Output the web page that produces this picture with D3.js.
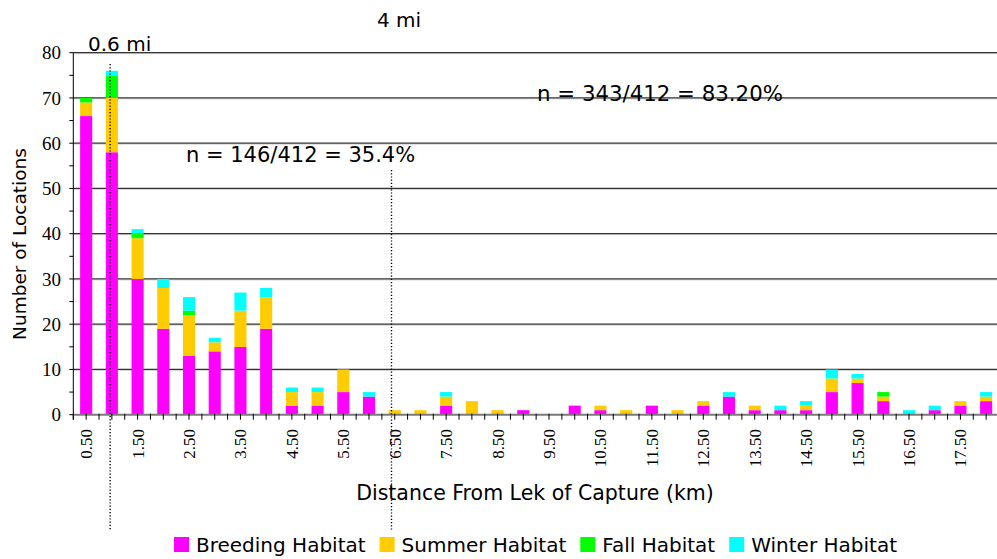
<!DOCTYPE html>
<html>
<head>
<meta charset="utf-8">
<script src="https://cdn.jsdelivr.net/npm/d3@7"></script>
<style>
  html, body { margin: 0; padding: 0; background: #fff; }
  svg { display: block; }
  .serif { font-family: "Liberation Serif", "Times New Roman", Tinos, "DejaVu Serif", serif; }
  .sans { font-family: "DejaVu Sans", Verdana, sans-serif; }
</style>
</head>
<body>
<svg id="chart" width="997" height="559"></svg>
<script>
// Distance classes (km) from the lek of capture
const categories = ["0.50","1.00","1.50","2.00","2.50","3.00","3.50","4.00","4.50","5.00",
  "5.50","6.00","6.50","7.00","7.50","8.00","8.50","9.00","9.50","10.00",
  "10.50","11.00","11.50","12.00","12.50","13.00","13.50","14.00","14.50","15.00",
  "15.50","16.00","16.50","17.00","17.50","18.00"];

// Number of locations per habitat type in each distance class
const breeding = [66,58,30,19,13,14,15,19,2,2,5,4,0,0,2,0,0,1,0,2,1,0,2,0,2,4,1,1,1,5,7,3,0,1,2,3];
const summer   = [3,12,9,9,9,2,8,7,3,3,5,0,1,1,2,3,1,0,0,0,1,1,0,1,1,0,1,0,1,3,1,1,0,0,1,1];
const fall     = [1,5,1,0,1,0,0,0,0,0,0,0,0,0,0,0,0,0,0,0,0,0,0,0,0,0,0,0,0,0,0,1,0,0,0,0];
const winter   = [0,1,1,2,3,1,4,2,1,1,0,1,0,0,1,0,0,0,0,0,0,0,0,0,0,1,0,1,1,2,1,0,1,1,0,1];

const seriesNames = ["Breeding Habitat","Summer Habitat","Fall Habitat","Winter Habitat"];
const seriesColors = ["#ff00ff","#ffcc00","#00ff00","#00ffff"];

const yTicks = [0,10,20,30,40,50,60,70,80];
const xLabelEvery = 2;   // label every other distance class

// Distance markers (km): 0.6 mi and 4 mi
const markerKm = [0.966, 6.437];
const markerLabels = ["0.6 mi","4 mi"];
const annotations = ["n = 146/412 = 35.4%","n = 343/412 = 83.20%"];

const svg = d3.select("#chart");
const plotLeft = 73.3, plotRight = 999, plotTop = 52.7, plotBottom = 414.7;

const x = d3.scaleBand().domain(categories).range([plotLeft, plotRight])
  .paddingInner(0.53).paddingOuter(0.265);
const y = d3.scaleLinear().domain([0, 80]).range([plotBottom, plotTop]);
const step = x.step();
const c0 = x(categories[0]) + x.bandwidth() / 2;
const cN = x(categories[categories.length - 1]) + x.bandwidth() / 2;
const xKm = d3.scaleLinear().domain([0.5, 18]).range([c0, cN]);

// Horizontal gridlines
const grid = svg.append("g");
yTicks.filter(v => v > 0).forEach(v => {
  grid.append("line").attr("x1", plotLeft).attr("x2", 997)
    .attr("y1", y(v) + 1).attr("y2", y(v) + 1)
    .attr("stroke", "#d4d4d4").attr("stroke-width", 1);
  grid.append("line").attr("x1", plotLeft).attr("x2", 997)
    .attr("y1", y(v)).attr("y2", y(v))
    .attr("stroke", "#333").attr("stroke-width", 1.2);
});

// Stacked bars
const table = categories.map((c, i) => ({
  cat: c, s0: breeding[i], s1: summer[i], s2: fall[i], s3: winter[i]
}));
const stack = d3.stack().keys(["s0","s1","s2","s3"]);
const layers = stack(table);
svg.append("g").selectAll("g").data(layers).join("g")
  .attr("fill", (d, i) => seriesColors[i])
  .selectAll("rect").data(d => d).join("rect")
  .attr("x", d => x(d.data.cat))
  .attr("width", x.bandwidth())
  .attr("y", d => y(d[1]))
  .attr("height", d => y(d[0]) - y(d[1]));

// Y axis
const yAxis = svg.append("g");
yAxis.append("line").attr("x1", plotLeft).attr("x2", plotLeft)
  .attr("y1", plotTop).attr("y2", plotBottom + 5).attr("stroke", "#000");
d3.range(0, 81, 5).forEach(v => {
  yAxis.append("line").attr("x1", plotLeft - 4).attr("x2", plotLeft)
    .attr("y1", y(v)).attr("y2", y(v)).attr("stroke", "#000");
});
yAxis.selectAll("text").data(yTicks).join("text")
  .attr("class", "serif")
  .attr("x", 61).attr("y", d => y(d)).attr("dy", "0.35em")
  .attr("text-anchor", "end")
  .style("font-size", "19px").attr("fill", "#000")
  .text(d => d);

// X axis line and ticks (class boundaries and centres)
const xAxis = svg.append("g");
xAxis.append("line").attr("x1", plotLeft).attr("x2", 997)
  .attr("y1", plotBottom).attr("y2", plotBottom).attr("stroke", "#7a7a7a").attr("stroke-width", 2);
d3.range(0, categories.length * 2 + 1).forEach(k => {
  const px = plotLeft + k * step / 2;
  xAxis.append("line").attr("x1", px).attr("x2", px)
    .attr("y1", plotBottom - 1).attr("y2", plotBottom + 5).attr("stroke", "#000");
});
xAxis.selectAll("text")
  .data(categories.filter((c, i) => i % xLabelEvery === 0))
  .join("text")
  .attr("class", "serif")
  .attr("transform", d => `translate(${x(d) + x.bandwidth() / 2},429) rotate(-90)`)
  .attr("dy", "0.35em").attr("text-anchor", "end")
  .style("font-size", "17px").attr("fill", "#000")
  .text(d => d);

// Dotted distance markers
const markerTops = [64, 170];
markerKm.forEach((km, i) => {
  svg.append("line").attr("x1", xKm(km)).attr("x2", xKm(km))
    .attr("y1", markerTops[i]).attr("y2", 530)
    .attr("stroke", "#000").attr("stroke-width", 1.4).attr("stroke-dasharray", "1.2,2");
});

// Marker labels and proportions
const txt = (s, px, py, size) => svg.append("text").attr("class", "sans")
  .attr("x", px).attr("y", py)
  .style("font-size", size + "px").attr("fill", "#000").text(s);
txt(markerLabels[0], 88, 51, 20);
txt(markerLabels[1], 377, 27, 20);
txt(annotations[0], 186, 162, 21);
txt(annotations[1], 537, 101, 21.3);

// Axis titles
svg.append("text").attr("class", "sans").attr("x", 535).attr("y", 500).attr("text-anchor", "middle")
  .style("font-size", "20.5px").attr("fill", "#000")
  .text("Distance From Lek of Capture (km)");
svg.append("text").attr("class", "sans").attr("transform", "translate(26,244) rotate(-90)")
  .attr("text-anchor", "middle")
  .style("font-size", "18.5px").attr("fill", "#000")
  .text("Number of Locations");

// Legend
const legend = svg.append("g");
let lx = 174;
seriesNames.forEach((name, i) => {
  legend.append("rect").attr("x", lx).attr("y", 537).attr("width", 15).attr("height", 15)
    .attr("fill", seriesColors[i]);
  const t = legend.append("text").attr("class", "sans").attr("x", lx + 22).attr("y", 552)
    .style("font-size", "20px").attr("fill", "#000").text(name);
  lx += 22 + t.node().getComputedTextLength() + 14;
});
</script>
</body>
</html>
